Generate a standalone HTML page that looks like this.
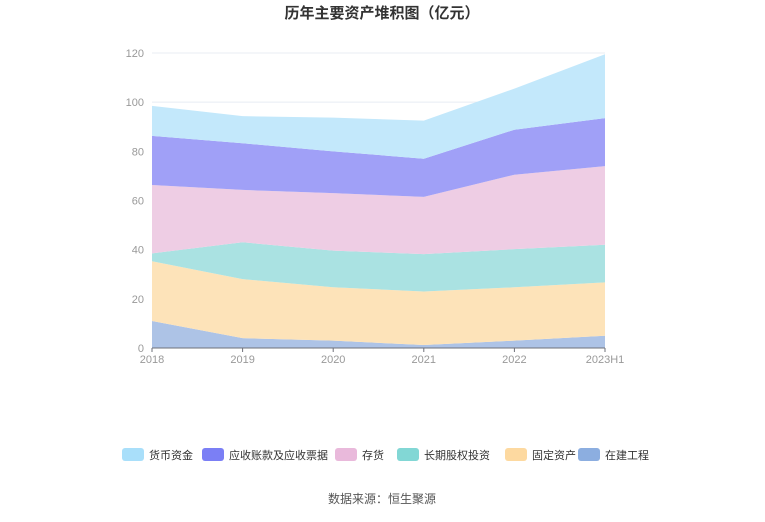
<!DOCTYPE html>
<html><head><meta charset="utf-8"><style>
body{margin:0;background:#fff;font-family:"Liberation Sans","Noto Sans CJK SC",sans-serif;}
</style></head><body>
<svg width="765" height="517" xmlns="http://www.w3.org/2000/svg">
<text x="382" y="18" text-anchor="middle" font-size="15" font-weight="bold" fill="#333">历年主要资产堆积图（亿元）</text>
<g id="grid"></g><g id="areas"></g><g id="axes"></g><g id="legend"></g>
<text x="382" y="503" text-anchor="middle" font-size="12" fill="#555">数据来源：恒生聚源</text>
</svg>
<script>
const categories=["2018","2019","2020","2021","2022","2023H1"];
const seriesNames=["在建工程","固定资产","长期股权投资","存货","应收账款及应收票据","货币资金"];
const zaijian=[11,4,3,1.2,3,5];
const guding=[24.3,24,21.7,21.8,21.7,21.7];
const changqi=[3.2,15,14.9,15.2,15.5,15.3];
const cunhuo=[27.8,21.3,23.4,23.3,30.3,32];
const yingshou=[20,19,17,15.5,18.3,19.5];
const huobi=[12.2,11,13.7,15.5,16.7,26];
const yTicks=[0,20,40,60,80,100,120];
const colors=["#adc3e6","#fde3b9","#aae2e2","#eecde4","#a0a0f7","#c3e8fb"];
const legendColors=["#a9dffa","#7b7ff5","#e9b9db","#82d7d5","#fdd9a0","#8caee0"];
const series=[zaijian,guding,changqi,cunhuo,yingshou,huobi];
const X0=152,X1=605,Y0=348,Y1=53,YMAX=120;
const xs=i=>X0+(X1-X0)*i/(categories.length-1);
const ys=v=>Y0-(Y0-Y1)*v/YMAX;
const NS="http://www.w3.org/2000/svg";
const mk=(t,a,p)=>{const e=document.createElementNS(NS,t);for(const k in a)e.setAttribute(k,a[k]);p.appendChild(e);return e;};
const grid=document.getElementById('grid'),areas=document.getElementById('areas'),axes=document.getElementById('axes'),legend=document.getElementById('legend');
yTicks.forEach(t=>{
 const l=mk('line',{x1:X0,x2:X1,y1:ys(t),y2:ys(t),stroke:'#e8ecf3'},grid);
 
 
 const tx=mk('text',{x:X0-8,y:ys(t)+4,'text-anchor':'end','font-size':11,fill:'#999'},axes);tx.textContent=t;
 
 
});
let base=categories.map(()=>0);
series.forEach((s,k)=>{
 const top=base.map((b,i)=>b+s[i]);
 let d='M'+top.map((v,i)=>xs(i)+','+ys(v)).join('L');
 for(let i=categories.length-1;i>=0;i--)d+='L'+xs(i)+','+ys(base[i]);
 const p=mk('path',{d:d+'Z',fill:colors[k]},areas);
 
 
 base=top;
});
const ax=mk('line',{x1:X0,x2:X1,y1:Y0,y2:Y0,stroke:'#6e7079'},axes);


categories.forEach((c,i)=>{
 mk('line',{x1:xs(i),x2:xs(i),y1:Y0,y2:Y0+4,stroke:'#6e7079'},axes);
 const tx=mk('text',{x:xs(i),y:Y0+15,'text-anchor':'middle','font-size':11,fill:'#999'},axes);tx.textContent=c;
 
 
});
const legOrder=["货币资金","应收账款及应收票据","存货","长期股权投资","固定资产","在建工程"];
const legX=[122,202,335,397,505,578];
legOrder.forEach((n,i)=>{
 const g=mk('g',{},legend);
 
 
 mk('rect',{x:legX[i],y:448,width:22,height:13,rx:3,fill:legendColors[i]},g);
 const t=mk('text',{x:legX[i]+27,y:459,'font-size':11,fill:'#333'},g);t.textContent=n;
});
</script>
</body></html>
